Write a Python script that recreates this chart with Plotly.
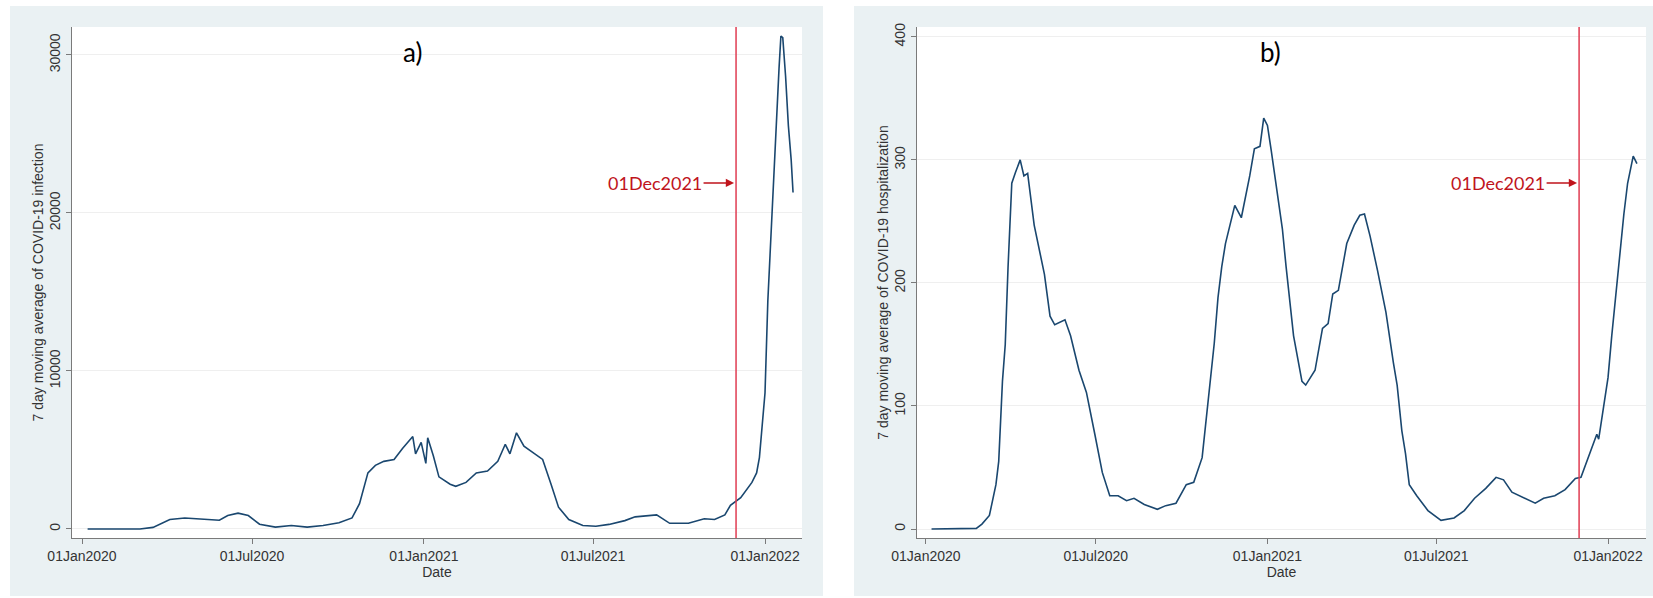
import plotly.graph_objects as go

# ---------------- data ----------------
inf_dates = [
    "2020-01-07", "2020-02-01", "2020-03-03", "2020-03-17", "2020-04-04", "2020-04-20",
    "2020-05-05", "2020-05-19", "2020-05-27", "2020-06-05", "2020-06-16", "2020-06-27",
    "2020-07-09", "2020-07-26", "2020-08-12", "2020-08-29", "2020-09-15", "2020-10-02",
    "2020-10-16", "2020-10-24", "2020-11-02", "2020-11-10", "2020-11-19", "2020-11-30",
    "2020-12-09", "2020-12-20", "2020-12-23", "2020-12-29", "2021-01-03", "2021-01-05",
    "2021-01-11", "2021-01-17", "2021-01-29", "2021-02-04", "2021-02-15", "2021-02-26",
    "2021-03-10", "2021-03-21", "2021-03-29", "2021-04-03", "2021-04-10", "2021-04-18",
    "2021-04-30", "2021-05-08", "2021-05-17", "2021-05-25", "2021-06-05", "2021-06-20",
    "2021-07-04", "2021-07-18", "2021-08-04", "2021-08-15", "2021-09-07", "2021-09-21",
    "2021-10-11", "2021-10-28", "2021-11-08", "2021-11-19", "2021-11-25", "2021-12-06",
    "2021-12-18", "2021-12-23", "2021-12-26", "2021-12-29", "2022-01-01", "2022-01-04",
    "2022-01-07", "2022-01-12", "2022-01-14", "2022-01-16", "2022-01-18", "2022-01-20",
    "2022-01-23", "2022-01-26", "2022-01-29", "2022-01-31",
]
inf_values = [
    0, 0, 0, 100, 600, 700,
    650, 600, 550, 850, 1000, 850,
    300, 120, 220, 120, 220, 400,
    700, 1600, 3550, 4030, 4280, 4400,
    5100, 5850, 4760, 5480, 4150, 5770,
    4640, 3300, 2830, 2700, 2950, 3550,
    3670, 4280, 5360, 4760, 6090, 5240,
    4760, 4400, 2830, 1380, 600, 220,
    170, 290, 530, 770, 890, 360,
    360, 650, 600, 890, 1500, 1980,
    2950, 3550, 4520, 6500, 8620, 14420,
    18290, 24690, 27220, 29150, 31200, 31090,
    28670, 25530, 23360, 21300,
]

hosp_dates = [
    "2020-01-07", "2020-02-24", "2020-03-01", "2020-03-09", "2020-03-16", "2020-03-19",
    "2020-03-23", "2020-03-26", "2020-03-29", "2020-04-02", "2020-04-06", "2020-04-11",
    "2020-04-15", "2020-04-19", "2020-04-26", "2020-05-02", "2020-05-07", "2020-05-13",
    "2020-05-18", "2020-05-29", "2020-06-04", "2020-06-13", "2020-06-21", "2020-06-30",
    "2020-07-08", "2020-07-16", "2020-07-25", "2020-08-03", "2020-08-11", "2020-08-22",
    "2020-09-05", "2020-09-14", "2020-09-25", "2020-10-06", "2020-10-14", "2020-10-23",
    "2020-11-01", "2020-11-05", "2020-11-09", "2020-11-13", "2020-11-17", "2020-11-27",
    "2020-12-04", "2020-12-13", "2020-12-18", "2020-12-24", "2020-12-28", "2021-01-01",
    "2021-01-05", "2021-01-12", "2021-01-17", "2021-01-21", "2021-01-29", "2021-02-07",
    "2021-02-11", "2021-02-21", "2021-03-01", "2021-03-07", "2021-03-12", "2021-03-18",
    "2021-03-27", "2021-04-04", "2021-04-10", "2021-04-15", "2021-04-21", "2021-04-29",
    "2021-05-08", "2021-05-16", "2021-05-20", "2021-05-25", "2021-05-29", "2021-06-02",
    "2021-06-10", "2021-06-22", "2021-07-06", "2021-07-20", "2021-07-31", "2021-08-11",
    "2021-08-23", "2021-09-03", "2021-09-11", "2021-09-20", "2021-10-01", "2021-10-15",
    "2021-10-24", "2021-11-05", "2021-11-16", "2021-11-27", "2021-12-03", "2021-12-11",
    "2021-12-20", "2021-12-22", "2021-12-28", "2022-01-01", "2022-01-05", "2022-01-10",
    "2022-01-14", "2022-01-18", "2022-01-22", "2022-01-28", "2022-02-01",
]
hosp_values = [
    0, 0.5, 4, 11, 36, 55,
    120, 150, 213, 281, 290, 300,
    287, 289, 247, 224, 207, 173,
    166, 170, 157, 129, 111, 77,
    46, 27, 27, 23, 25, 20,
    16, 19, 21, 36, 38, 58,
    120, 151, 188, 213, 232, 263,
    253, 287, 309, 311, 334, 328,
    308, 269, 244, 213, 157, 120,
    117, 129, 163, 167, 191, 194,
    232, 247, 255, 256, 238, 210,
    176, 135, 117, 80, 61, 36,
    27, 15, 7, 9, 15, 25,
    33, 42, 40, 30, 26, 21,
    25, 27, 32, 41, 42, 58,
    77, 73, 101, 123, 157, 194,
    229, 256, 281, 303, 297,
]

x_tick_dates = ["2020-01-01", "2020-07-01", "2021-01-01", "2021-07-01", "2022-01-01"]
inf_yticks = [0, 10000, 20000, 30000]
hosp_yticks = [0, 100, 200, 300, 400]
cutoff_date = "2021-12-01"
cutoff_label = "01Dec2021"
panel_labels = ["a)", "b)"]
inf_ytitle = "7 day moving average of COVID-19 infection"
hosp_ytitle = "7 day moving average of COVID-19 hospitalization"
x_title = "Date"

# ---------------- style ----------------
W, H = 1653, 598
LINE = "#1a476f"
RED_LINE = "#e03c52"
RED_TXT = "#c0141c"
PANEL_BG = "#eaf1f3"
AX = "#7a7a7a"
TXT = "#333333"
FONT = "Liberation Sans, Arial, sans-serif"


def px_x(p):
    return p / W


def px_y(p):
    return (H - p) / H


fig = go.Figure()
fig.add_trace(go.Scatter(x=inf_dates, y=inf_values, mode="lines",
                         line=dict(color=LINE, width=1.6), xaxis="x", yaxis="y",
                         showlegend=False))
fig.add_trace(go.Scatter(x=hosp_dates, y=hosp_values, mode="lines",
                         line=dict(color=LINE, width=1.6), xaxis="x2", yaxis="y2",
                         showlegend=False))

ydom = [px_y(538), px_y(27)]
common_x = dict(
    type="date", tickvals=x_tick_dates, tickformat="%d%b%Y", automargin=False,
    showline=True, linecolor=AX, linewidth=1, ticks="outside", ticklen=5,
    tickcolor=AX, showgrid=False, zeroline=False,
    tickfont=dict(family=FONT, size=14, color=TXT),
    title=dict(text=x_title, font=dict(family=FONT, size=14, color=TXT), standoff=0),
)
common_y = dict(
    showline=True, linecolor=AX, linewidth=1, ticks="outside", ticklen=5,
    tickcolor=AX, showgrid=True, gridcolor="#efefef", gridwidth=1, zeroline=False,
    tickangle=-90, tickformat="d", automargin=False,
    tickfont=dict(family=FONT, size=14, color=TXT),
)

fig.update_layout(
    width=W, height=H, autosize=False,
    margin=dict(l=0, r=0, t=0, b=0),
    paper_bgcolor="white", plot_bgcolor="white",
    xaxis=dict(domain=[px_x(72), px_x(802)],
               range=["2019-12-21 07:00", "2022-02-09 14:00"], anchor="y", **common_x),
    xaxis2=dict(domain=[px_x(917), px_x(1646)],
                range=["2019-12-22 10:00", "2022-02-10 17:00"], anchor="y2", **common_x),
    yaxis=dict(domain=ydom, range=[-570, 31770], tickvals=inf_yticks, anchor="x",
               title=dict(text=inf_ytitle, font=dict(family=FONT, size=14, color=TXT),
                          standoff=0),
               **common_y),
    yaxis2=dict(domain=ydom, range=[-7.3, 408], tickvals=hosp_yticks, anchor="x2",
                title=dict(text=hosp_ytitle, font=dict(family=FONT, size=14, color=TXT),
                           standoff=0),
                **common_y),
)

# panel backgrounds and white plot regions
for x0, x1 in [(10, 823), (854, 1653)]:
    fig.add_shape(type="rect", xref="paper", yref="paper",
                  x0=px_x(x0), x1=px_x(x1), y0=px_y(596), y1=px_y(6),
                  fillcolor=PANEL_BG, line=dict(width=0), layer="below")
for x0, x1 in [(72, 802), (917, 1646)]:
    fig.add_shape(type="rect", xref="paper", yref="paper",
                  x0=px_x(x0), x1=px_x(x1), y0=ydom[0], y1=ydom[1],
                  fillcolor="white", line=dict(width=0), layer="below")

# cutoff lines
for xr in ["x", "x2"]:
    fig.add_shape(type="line", xref=xr, yref="paper", x0=cutoff_date, x1=cutoff_date,
                  y0=ydom[0], y1=ydom[1], line=dict(color=RED_LINE, width=1.5))

# cutoff annotations with arrows
fig.add_annotation(x=cutoff_date, y=21899, xref="x", yref="y", text=cutoff_label,
                   showarrow=True, ax=-81, ay=0, arrowhead=2, arrowsize=1.1,
                   arrowwidth=1.5, arrowcolor=RED_TXT, standoff=2,
                   font=dict(family="Lato, Carlito, sans-serif", size=18, color=RED_TXT))
fig.add_annotation(x=cutoff_date, y=281.3, xref="x2", yref="y2", text=cutoff_label,
                   showarrow=True, ax=-81, ay=0, arrowhead=2, arrowsize=1.1,
                   arrowwidth=1.5, arrowcolor=RED_TXT, standoff=2,
                   font=dict(family="Lato, Carlito, sans-serif", size=18, color=RED_TXT))

# panel letters
for lab, xc in zip(panel_labels, [412, 1270]):
    fig.add_annotation(x=px_x(xc), y=px_y(52), xref="paper", yref="paper", text=lab,
                       showarrow=False, xanchor="center", yanchor="middle",
                       font=dict(family="Lato, sans-serif", size=26, color="black"))

fig.write_html("out.html", config={"displayModeBar": False},
               post_script="document.body.style.margin='0';"
                           "document.body.style.overflow='hidden';")
